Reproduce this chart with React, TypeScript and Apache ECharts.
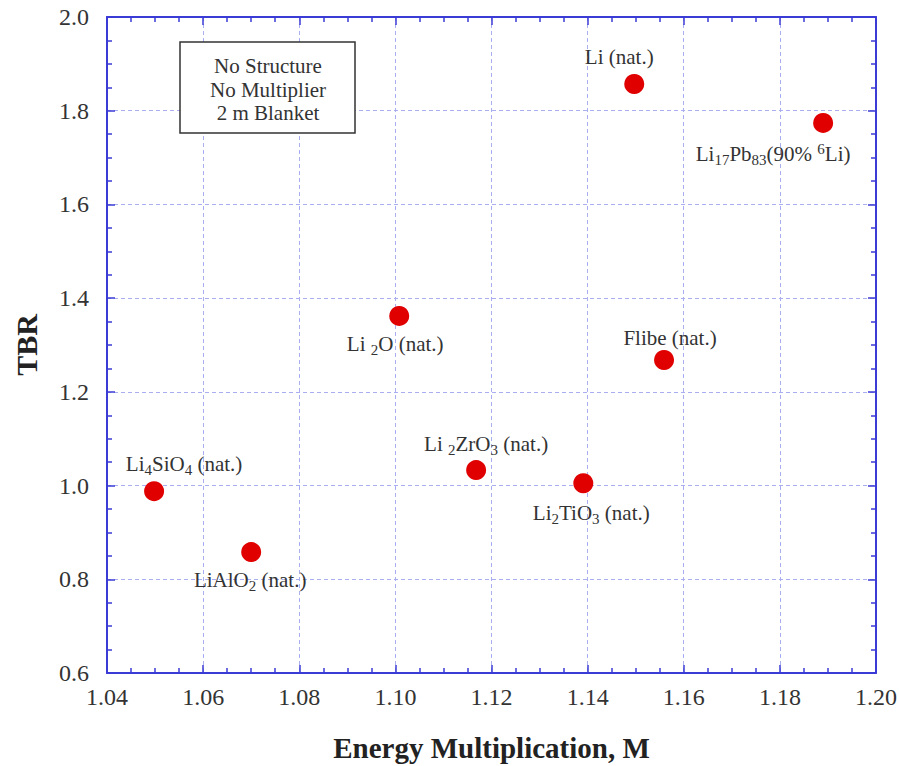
import React, { useEffect, useRef } from "react";
import * as echarts from "echarts";

const materials = ["Li4SiO4", "LiAlO2", "Li2O", "Li2ZrO3", "Li2TiO3", "Flibe", "Li", "Li17Pb83"];
const energyMult = [1.0498, 1.070, 1.1008, 1.1168, 1.1391, 1.1559, 1.1497, 1.189];
const tbr = [0.988, 0.858, 1.362, 1.033, 1.005, 1.268, 1.857, 1.774];
const pointLabels = [
  "{n|Li}{s|4}{n|SiO}{s|4}{n| (nat.)}",
  "{n|LiAlO}{s|2}{n| (nat.)}",
  "{n|Li }{s|2}{n|O (nat.)}",
  "{n|Li }{s|2}{n|ZrO}{s|3}{n| (nat.)}",
  "{n|Li}{s|2}{n|TiO}{s|3}{n| (nat.)}",
  "{n|Flibe (nat.)}",
  "{n|Li (nat.)}",
  "{n|Li}{s|17}{n|Pb}{s|83}{n|(90% }{u|6}{n|Li)}",
];
const xTicks = [1.04, 1.06, 1.08, 1.1, 1.12, 1.14, 1.16, 1.18, 1.2];
const yTicks = [0.6, 0.8, 1.0, 1.2, 1.4, 1.6, 1.8, 2.0];
const noteLines = ["No Structure", "No Multiplier", "2 m Blanket"];

const labelOffsets: [number, number][] = [
  [30, -27], [-1, 28], [-4, 28], [10, -26], [8, 30], [6, -22], [-15, -27], [-50, 31],
];

const FONT = "'Liberation Serif', 'Times New Roman', 'DejaVu Serif', serif";
const AXIS_BLUE = "#3b3bd6";
const GRID_BLUE = "#a9aef0";

export default function App() {
  const ref = useRef<HTMLDivElement>(null);
  useEffect(() => {
    if (!ref.current) return;
    const chart = echarts.init(ref.current, null, { renderer: "svg" });
    const rich = {
      n: { fontSize: 21, fontFamily: FONT, color: "#333", lineHeight: 24 },
      s: { fontSize: 15, fontFamily: FONT, color: "#333", lineHeight: 17, padding: [12, 0, 0, 0] },
      u: { fontSize: 15, fontFamily: FONT, color: "#333", lineHeight: 17, padding: [0, 0, 10, 0] },
    };
    const axisCommon = {
      axisLine: { show: true, lineStyle: { color: AXIS_BLUE, width: 2 } },
      axisTick: { show: true, inside: true, length: 8, lineStyle: { color: AXIS_BLUE, width: 1.5 } },
      minorTick: { show: true, splitNumber: 4, length: 5, lineStyle: { color: AXIS_BLUE, width: 1.5 } },
    };
    const fmt = (v: number, d: number) => v.toFixed(d);
    chart.setOption({
      animation: false,
      backgroundColor: "#fff",
      textStyle: { fontFamily: FONT },
      grid: { left: 107, top: 17, right: 23, bottom: 93, containLabel: false, outerBoundsMode: "none" },
      xAxis: [
        {
          type: "value",
          min: xTicks[0],
          max: xTicks[xTicks.length - 1],
          interval: 0.02,
          position: "bottom",
          ...axisCommon,
          axisLabel: {
            fontSize: 24, fontFamily: FONT, color: "#333", margin: 12,
            formatter: (v: number) => fmt(v, 2),
          },
          splitLine: { show: true, lineStyle: { color: GRID_BLUE, type: [4, 3], width: 1 } },
          name: "Energy Multiplication, M",
          nameLocation: "middle",
          nameGap: 60,
          nameTextStyle: { fontSize: 29, fontWeight: "bold", fontFamily: FONT, color: "#222" },
        },
        {
          type: "value",
          min: xTicks[0],
          max: xTicks[xTicks.length - 1],
          interval: 0.02,
          position: "top",
          ...axisCommon,
          axisLabel: { show: false },
          splitLine: { show: false },
        },
      ],
      yAxis: [
        {
          type: "value",
          min: yTicks[0],
          max: yTicks[yTicks.length - 1],
          interval: 0.2,
          position: "left",
          ...axisCommon,
          axisLabel: {
            fontSize: 24, fontFamily: FONT, color: "#333", margin: 18,
            formatter: (v: number) => fmt(v, 1),
          },
          splitLine: { show: true, lineStyle: { color: GRID_BLUE, type: [4, 3], width: 1 } },
          name: "TBR",
          nameLocation: "middle",
          nameGap: 66,
          nameTextStyle: { fontSize: 30, fontWeight: "bold", fontFamily: FONT, color: "#222" },
        },
        {
          type: "value",
          min: yTicks[0],
          max: yTicks[yTicks.length - 1],
          interval: 0.2,
          position: "right",
          ...axisCommon,
          axisLabel: { show: false },
          splitLine: { show: false },
        },
      ],
      series: [
        {
          type: "scatter",
          symbol: "circle",
          symbolSize: 20,
          itemStyle: { color: "#e00000", opacity: 1 },
          data: materials.map((m, i) => ({
            name: m,
            value: [energyMult[i], tbr[i]],
            label: {
              show: true,
              position: "inside",
              offset: labelOffsets[i],
              align: "center",
              verticalAlign: "middle",
              formatter: pointLabels[i],
              rich,
            },
          })),
          emphasis: { disabled: true },
        },
      ],
      graphic: [
        {
          type: "rect",
          shape: { x: 180, y: 42, width: 175, height: 91 },
          style: { fill: "#fff", stroke: "#333", lineWidth: 1.5 },
          z: 10,
        },
        ...noteLines.map((t, i) => ({
          type: "text",
          x: 268,
          y: 66 + i * 23.5,
          style: {
            text: t, fontSize: 21, fontFamily: FONT, fill: "#333",
            align: "center", verticalAlign: "middle",
          },
          z: 11,
        })),
      ],
    });
    return () => chart.dispose();
  }, []);
  return <div ref={ref} style={{ width: 899, height: 766, position: "absolute", left: 0, top: 0 }} />;
}
